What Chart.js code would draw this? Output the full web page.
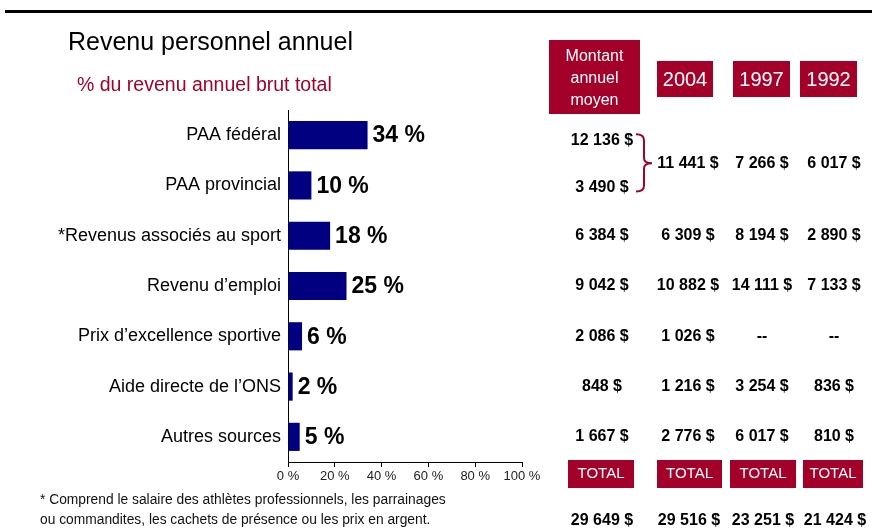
<!DOCTYPE html>
<html>
<head>
<meta charset="utf-8">
<script src="https://cdn.jsdelivr.net/npm/chart.js@4"></script>
<style>
  body { margin: 0; background: #fff; }
  #wrap { width: 872px; height: 529px; position: relative; }
</style>
</head>
<body>
<div id="wrap"><canvas id="myChart" width="872" height="529"></canvas></div>
<script>
// data
var categories = ['PAA fédéral', 'PAA provincial', '*Revenus associés au sport', 'Revenu d\u2019emploi',
                  'Prix d\u2019excellence sportive', 'Aide directe de l\u2019ONS', 'Autres sources'];
var percentages = [34, 10, 18, 25, 6, 2, 5];
var xTicks = [0, 20, 40, 60, 80, 100];

// table: montant annuel moyen per category, then earlier years (PAA fédéral + provincial merged)
var montant = [12136, 3490, 6384, 9042, 2086, 848, 1667];
var v2004 = [11441, 6309, 10882, 1026, 1216, 2776];
var v1997 = [7266, 8194, 14111, null, 3254, 6017];
var v1992 = [6017, 2890, 7133, null, 836, 810];
var totals = [29649, 29516, 23251, 21424];
var headers = ['2004', '1997', '1992'];

var RED = '#a3002a';
var FONT = "'Liberation Sans', Arial, sans-serif";

function fmt(n) {
    if (n === null) return '--';
    return String(n).replace(/\B(?=(\d{3})+(?!\d))/g, ' ') + ' $';
}

var extras = {
    id: 'extras',
    afterDraw: function(chart) {
        var c = chart.ctx;
        var y = chart.scales.y;
        c.save();

        // top rule
        c.fillStyle = '#000';
        c.fillRect(5, 10, 867, 3);

        // titles
        c.textBaseline = 'alphabetic';
        c.textAlign = 'left';
        c.font = '25px ' + FONT;
        c.fillText('Revenu personnel annuel', 68, 50);
        c.fillStyle = RED;
        c.font = '19.5px ' + FONT;
        c.fillText('% du revenu annuel brut total', 77, 91);

        // value labels next to bars
        var meta = chart.getDatasetMeta(0);
        c.fillStyle = '#000';
        c.font = 'bold 23px ' + FONT;
        c.textBaseline = 'middle';
        meta.data.forEach(function(bar, i) {
            c.fillText(percentages[i] + ' %', bar.x + 5, bar.y + 1);
        });

        // header boxes
        c.fillStyle = RED;
        c.fillRect(549, 40, 91, 74);
        c.fillRect(657, 61, 56, 36);
        c.fillRect(733, 61, 57, 36);
        c.fillRect(800, 61, 57, 36);
        c.fillStyle = '#fff';
        c.textAlign = 'center';
        c.font = '16px ' + FONT;
        c.fillText('Montant', 594.5, 57);
        c.fillText('annuel', 594.5, 79);
        c.fillText('moyen', 594.5, 101);
        c.font = '20px ' + FONT;
        var hx = [685, 761.5, 828.5];
        headers.forEach(function(h, i) { c.fillText(h, hx[i], 80); });

        // table values
        var cols = [602, 688, 762, 834];
        c.fillStyle = '#000';
        c.font = 'bold 16px ' + FONT;
        montant.forEach(function(v, i) {
            var yy = y.getPixelForValue(i);
            if (i === 0) yy += 5;
            if (i === 1) yy += 2;
            c.fillText(fmt(v), cols[0], yy);
        });
        var rowY = function(k) {
            if (k === 0) return (y.getPixelForValue(0) + y.getPixelForValue(1)) / 2 + 3;
            return y.getPixelForValue(k + 1);
        };
        [v2004, v1997, v1992].forEach(function(arr, j) {
            arr.forEach(function(v, k) {
                c.fillText(fmt(v), cols[j + 1], rowY(k));
            });
        });

        // curly bracket for PAA rows
        var yt = y.getPixelForValue(0) - 1, yb = y.getPixelForValue(1) + 6, ym = rowY(0);
        c.strokeStyle = RED;
        c.lineWidth = 2;
        c.beginPath();
        c.moveTo(636, yt);
        c.quadraticCurveTo(644, yt, 644, yt + 6);
        c.lineTo(644, ym - 5);
        c.quadraticCurveTo(644, ym, 652, ym);
        c.quadraticCurveTo(644, ym, 644, ym + 5);
        c.lineTo(644, yb - 6);
        c.quadraticCurveTo(644, yb, 636, yb);
        c.stroke();

        // total boxes
        var tb = [[568, 66], [657, 65], [730, 66], [803, 60]];
        c.fillStyle = RED;
        tb.forEach(function(b) { c.fillRect(b[0], 460, b[1], 28); });
        c.fillStyle = '#fff';
        c.font = '15px ' + FONT;
        tb.forEach(function(b) { c.fillText('TOTAL', b[0] + b[1] / 2, 474); });
        c.fillStyle = '#000';
        c.font = 'bold 16px ' + FONT;
        var tx = [602, 689, 763, 835];
        totals.forEach(function(v, i) { c.fillText(fmt(v), tx[i], 521); });

        // footnote
        c.textAlign = 'left';
        c.font = '13.8px ' + FONT;
        c.fillStyle = '#111';
        c.fillText('* Comprend le salaire des athlètes professionnels, les parrainages', 40, 500);
        c.fillText('ou commandites, les cachets de présence ou les prix en argent.', 40, 520);

        c.restore();
    }
};

var ctx = document.getElementById('myChart').getContext('2d');
var myChart = new Chart(ctx, {
    type: 'bar',
    data: {
        labels: categories,
        datasets: [{
            data: percentages,
            backgroundColor: '#000080',
            borderWidth: 0,
            barPercentage: 0.56,
            categoryPercentage: 1
        }]
    },
    options: {
        indexAxis: 'y',
        responsive: false,
        animation: false,
        layout: {
            padding: { left: 0, top: 110, right: 350, bottom: 37 }
        },
        plugins: {
            legend: { display: false },
            tooltip: { enabled: false }
        },
        scales: {
            x: {
                min: 0,
                max: 100,
                afterBuildTicks: function(s) { s.ticks = xTicks.map(function(v) { return {value: v}; }); },
                afterFit: function(s) { s.height = 30; },
                grid: { drawOnChartArea: false, drawTicks: true, tickLength: 5, color: '#000' },
                border: { color: '#000', width: 1 },
                ticks: {
                    padding: 2,
                    color: '#222',
                    font: { family: FONT, size: 13 },
                    callback: function(v) { return v + ' %'; }
                }
            },
            y: {
                afterFit: function(s) { s.width = 288; },
                grid: { drawOnChartArea: false, drawTicks: false },
                border: { color: '#000', width: 1 },
                ticks: {
                    padding: 7,
                    color: '#000',
                    font: { family: FONT, size: 18 }
                }
            }
        }
    },
    plugins: [extras]
});
</script>
</body>
</html>
